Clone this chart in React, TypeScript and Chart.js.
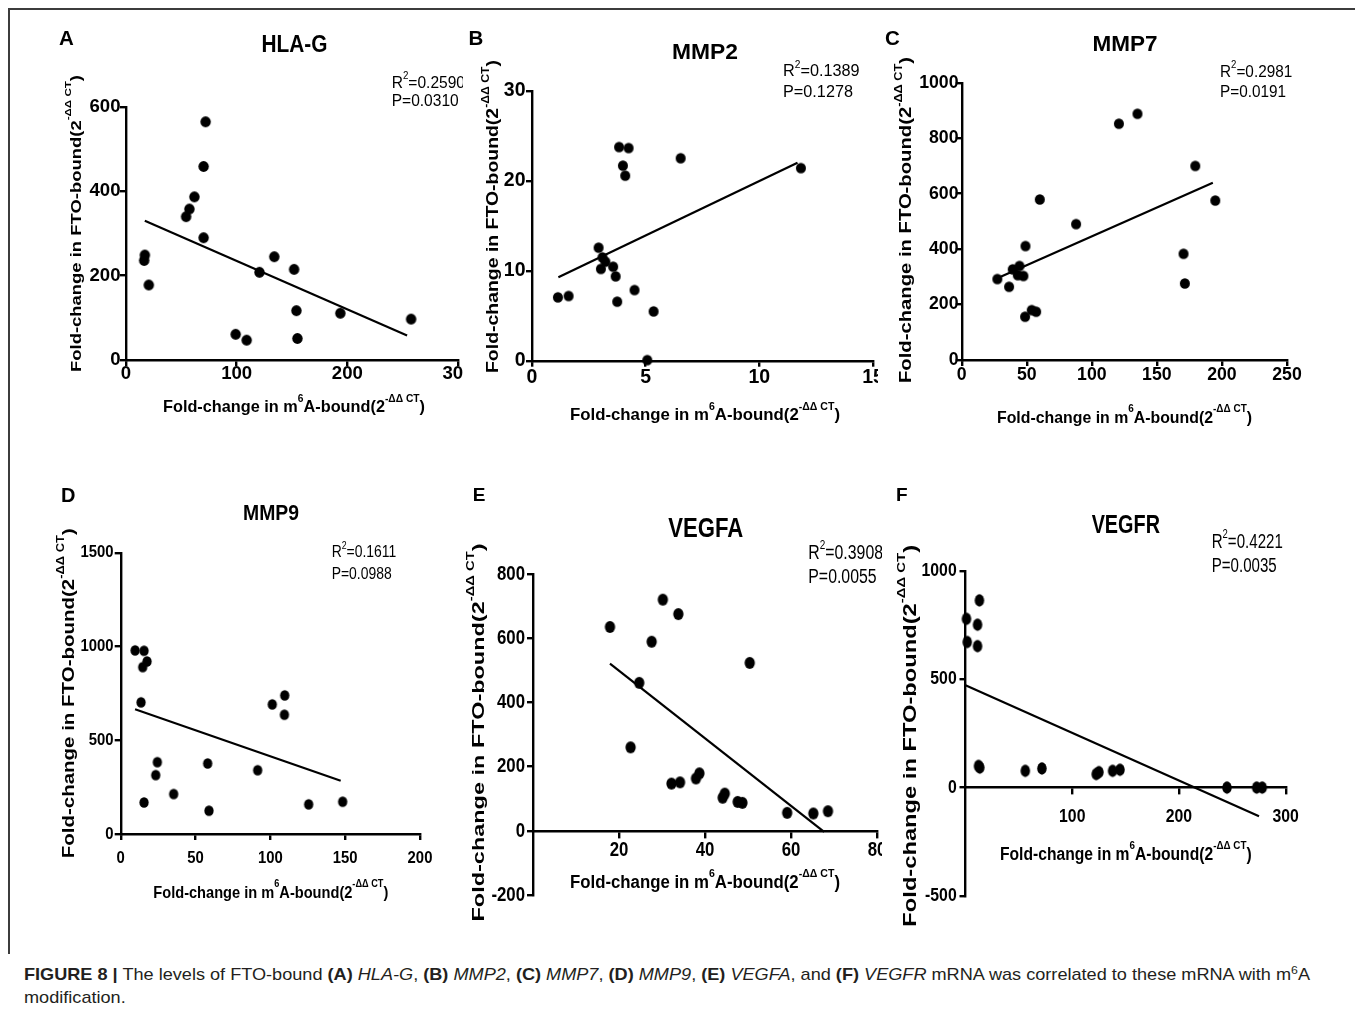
import React, { useEffect, useRef } from 'react';
import { Chart, registerables } from 'chart.js';

Chart.register(...registerables);

// ---------------- data ----------------
const genes = ['HLA-G', 'MMP2', 'MMP7', 'MMP9', 'VEGFA', 'VEGFR'];
const panelLetters = ['A', 'B', 'C', 'D', 'E', 'F'];

const hlagM6A = [17.0, 16.4, 20.6, 54.3, 57.3, 61.8, 70.1, 70.1, 71.9, 99.1, 109, 120.6, 134, 151.9, 154, 154.9, 193.7, 257.6];
const hlagFTO = [249, 236, 178, 340, 358, 387, 290, 459, 565, 61, 47, 208, 245, 215, 117, 51, 111, 97];
const hlagFitX = [17, 254];
const hlagFitY = [330, 58];
const hlagXTicks = [0, 100, 200, 300];
const hlagYTicks = [0, 200, 400, 600];
const hlagXRange = [0, 300];
const hlagYRange = [0, 600];

const mmp2M6A = [1.14, 1.61, 2.93, 3.1, 3.23, 3.03, 3.57, 3.68, 3.75, 3.83, 4.25, 4.0, 4.1, 4.51, 5.35, 5.07, 6.54, 11.83];
const mmp2FTO = [7.04, 7.19, 12.56, 11.48, 11.0, 10.2, 10.44, 9.37, 6.56, 23.74, 23.63, 21.67, 20.56, 7.85, 5.48, 0.07, 22.5, 21.4];
const mmp2FitX = [1.16, 11.68];
const mmp2FitY = [9.26, 22.0];
const mmp2XTicks = [0, 5, 10, 15];
const mmp2YTicks = [0, 10, 20, 30];
const mmp2XRange = [0, 15];
const mmp2YRange = [0, 30];

const mmp7M6A = [27.4, 36.4, 39.2, 44.4, 43.1, 47.4, 49, 48.7, 53.8, 57.2, 60, 87.9, 120.8, 135.1, 179.5, 170.5, 171.5, 194.9];
const mmp7FTO = [292, 264, 327, 339, 306, 303, 411, 156, 180, 174, 579, 490, 852, 888, 700, 383, 276, 575];
const mmp7FitX = [28.2, 193];
const mmp7FitY = [297, 639];
const mmp7XTicks = [0, 50, 100, 150, 200, 250];
const mmp7YTicks = [0, 200, 400, 600, 800, 1000];
const mmp7XRange = [0, 250];
const mmp7YRange = [0, 1000];

const mmp9M6A = [9.6, 15.6, 14.7, 17.6, 13.6, 24.5, 23.4, 15.6, 35.4, 58.1, 59, 91.5, 101.3, 109.6, 109.4, 125.6, 148.3];
const mmp9FTO = [979, 977, 890, 920, 702, 383, 314, 168, 213, 376, 124, 340, 691, 739, 636, 158, 172];
const mmp9FitX = [9.6, 147];
const mmp9FitY = [665, 284];
const mmp9XTicks = [0, 50, 100, 150, 200];
const mmp9YTicks = [0, 500, 1000, 1500];
const mmp9XRange = [0, 200];
const mmp9YRange = [0, 1500];

const vegfaM6A = [17.9, 30.2, 33.8, 27.6, 24.7, 50.4, 22.7, 32.2, 34.2, 37.9, 38.7, 44.1, 44.6, 47.6, 48.7, 59.1, 65.2, 68.6];
const vegfaFTO = [635, 720, 675, 589, 461, 523, 260, 147, 151, 163, 179, 103, 116, 90, 87, 56, 54, 61];
const vegfaFitX = [17.9, 67.7];
const vegfaFitY = [521, -3];
const vegfaXTicks = [20, 40, 60, 80];
const vegfaYTicks = [-200, 0, 200, 400, 600, 800];
const vegfaXRange = [0, 80];
const vegfaYRange = [-200, 800];

const vegfrM6A = [0.9, 1.6, 13, 11.3, 11.3, 12.2, 13.4, 56, 71.6, 122.5, 125, 137.8, 144.7, 245, 272.8, 278];
const vegfrFTO = [778, 671, 863, 751, 652, 100, 92, 77, 88, 62, 71, 77, 82, 0, 0, 0];
const vegfrFitX = [0, 275];
const vegfrFitY = [472, -132];
const vegfrXTicks = [100, 200, 300];
const vegfrYTicks = [-500, 0, 500, 1000];
const vegfrXRange = [0, 300];
const vegfrYRange = [-500, 1000];

const r2Values = ['0.2590', '0.1389', '0.2981', '0.1611', '0.3908', '0.4221'];
const pValues = ['0.0310', '0.1278', '0.0191', '0.0988', '0.0055', '0.0035'];

// ---------------- fonts & layout ----------------
const SANS = '"Liberation Sans", Arial, Helvetica, sans-serif';

type Seg = { t: string; sup?: boolean };

interface Layout {
  box: number[]; // left, top, width, height (page px)
  area: number[]; // chart area left, top, right, bottom (page px)
  xAtZero: boolean;
  tickSize: number;
  tickSqueeze: number;
  xLabelY: number;
  yLabelRight: number;
  dot: number[];
  letter: { x: number; y: number; size: number };
  title: { x: number; y: number; size: number; w: number };
  stats: { x: number; y1: number; y2: number; size: number; w: number };
  yTitle: { x: number; y: number; size: number; w: number };
  xTitle: { x: number; y: number; size: number; w: number };
}

const layouts: Layout[] = [
  {
    box: [10, 10, 453, 425], area: [126, 107, 461.5, 360], xAtZero: false,
    tickSize: 18.6, tickSqueeze: 1, xLabelY: 373.7, yLabelRight: 120.5, dot: [10.4, 10.8],
    letter: { x: 66.5, y: 37.5, size: 20.5 },
    title: { x: 294.5, y: 43.5, size: 23, w: 66 },
    stats: { x: 391.7, y1: 81.7, y2: 100.2, size: 16.5, w: 67 },
    yTitle: { x: 75.3, y: 223.5, size: 15.5, w: 297 },
    xTitle: { x: 294, y: 406.5, size: 16.5, w: 262 },
  },
  {
    box: [463, 10, 415, 425], area: [532, 90.7, 877.7, 360.7], xAtZero: false,
    tickSize: 19.5, tickSqueeze: 1, xLabelY: 377.5, yLabelRight: 525.5, dot: [10, 10.5],
    letter: { x: 476, y: 37.5, size: 20.5 },
    title: { x: 705, y: 51.7, size: 21.5, w: 66 },
    stats: { x: 783, y1: 70, y2: 91.2, size: 17, w: 70 },
    yTitle: { x: 492.7, y: 216.5, size: 16, w: 313 },
    xTitle: { x: 705, y: 414.3, size: 16.5, w: 270 },
  },
  {
    box: [878, 10, 477, 425], area: [961.7, 82.7, 1287, 360], xAtZero: false,
    tickSize: 17.7, tickSqueeze: 1, xLabelY: 375.5, yLabelRight: 958.5, dot: [10, 10.7],
    letter: { x: 892.5, y: 37.5, size: 20.5 },
    title: { x: 1125, y: 42.8, size: 22, w: 65 },
    stats: { x: 1220, y1: 70.8, y2: 91, size: 16.5, w: 66 },
    yTitle: { x: 905.7, y: 220, size: 16, w: 326 },
    xTitle: { x: 1124.5, y: 416.7, size: 16.5, w: 255 },
  },
  {
    box: [10, 440, 445, 500], area: [120.7, 552.7, 420, 834], xAtZero: false,
    tickSize: 16.5, tickSqueeze: 0.9, xLabelY: 858, yLabelRight: 113.5, dot: [9.3, 10.7],
    letter: { x: 68.3, y: 495, size: 20 },
    title: { x: 271, y: 512, size: 21.5, w: 56 },
    stats: { x: 331.7, y1: 551, y2: 573.3, size: 16.5, w: 60 },
    yTitle: { x: 68, y: 693.3, size: 16, w: 330 },
    xTitle: { x: 270.8, y: 891.7, size: 16.5, w: 235 },
  },
  {
    box: [455, 440, 427, 500], area: [533, 574, 877.3, 895], xAtZero: true,
    tickSize: 21, tickSqueeze: 0.8, xLabelY: 850.7, yLabelRight: 525, dot: [10.3, 12],
    letter: { x: 479, y: 494, size: 19 },
    title: { x: 705.8, y: 526.7, size: 28, w: 75 },
    stats: { x: 808.3, y1: 551.7, y2: 576.3, size: 19.5, w: 68.3 },
    yTitle: { x: 478.3, y: 732.5, size: 17, w: 378 },
    xTitle: { x: 705, y: 881.7, size: 18, w: 270 },
  },
  {
    box: [882, 440, 473, 500], area: [965.5, 570.7, 1285.7, 896], xAtZero: true,
    tickSize: 18.6, tickSqueeze: 0.85, xLabelY: 816.7, yLabelRight: 956.7, dot: [9.5, 12.3],
    letter: { x: 901.7, y: 494, size: 19 },
    title: { x: 1125.8, y: 524.2, size: 25.5, w: 68.3 },
    stats: { x: 1211.7, y1: 540.8, y2: 564.5, size: 20, w: 65 },
    yTitle: { x: 909.7, y: 735.8, size: 18, w: 381.7 },
    xTitle: { x: 1125.8, y: 853.3, size: 18, w: 251.7 },
  },
];

interface PanelData {
  xs: number[]; ys: number[]; fitX: number[]; fitY: number[];
  xTicks: number[]; yTicks: number[]; xRange: number[]; yRange: number[];
}

const panelData: PanelData[] = [
  { xs: hlagM6A, ys: hlagFTO, fitX: hlagFitX, fitY: hlagFitY, xTicks: hlagXTicks, yTicks: hlagYTicks, xRange: hlagXRange, yRange: hlagYRange },
  { xs: mmp2M6A, ys: mmp2FTO, fitX: mmp2FitX, fitY: mmp2FitY, xTicks: mmp2XTicks, yTicks: mmp2YTicks, xRange: mmp2XRange, yRange: mmp2YRange },
  { xs: mmp7M6A, ys: mmp7FTO, fitX: mmp7FitX, fitY: mmp7FitY, xTicks: mmp7XTicks, yTicks: mmp7YTicks, xRange: mmp7XRange, yRange: mmp7YRange },
  { xs: mmp9M6A, ys: mmp9FTO, fitX: mmp9FitX, fitY: mmp9FitY, xTicks: mmp9XTicks, yTicks: mmp9YTicks, xRange: mmp9XRange, yRange: mmp9YRange },
  { xs: vegfaM6A, ys: vegfaFTO, fitX: vegfaFitX, fitY: vegfaFitY, xTicks: vegfaXTicks, yTicks: vegfaYTicks, xRange: vegfaXRange, yRange: vegfaYRange },
  { xs: vegfrM6A, ys: vegfrFTO, fitX: vegfrFitX, fitY: vegfrFitY, xTicks: vegfrXTicks, yTicks: vegfrYTicks, xRange: vegfrXRange, yRange: vegfrYRange },
];

const yTitleSegs: Seg[] = [{ t: 'Fold-change in FTO-bound(2' }, { t: '-ΔΔ CT', sup: true }, { t: ')' }];
const xTitleSegs: Seg[] = [{ t: 'Fold-change in m' }, { t: '6', sup: true }, { t: 'A-bound(2' }, { t: '-ΔΔ CT', sup: true }, { t: ')' }];

// ---------------- helpers ----------------
function drawRich(
  ctx: CanvasRenderingContext2D,
  segs: Seg[],
  o: { x: number; y: number; size: number; bold?: boolean; family: string; align?: 'left' | 'center'; width?: number; sx?: number; rotate?: boolean; supRaise?: number; supScale?: number }
): number {
  const supScale = o.supScale ?? 0.63;
  const supRaise = o.supRaise ?? 0.46;
  const font = (sup?: boolean) => `${o.bold ? 'bold ' : ''}${sup ? o.size * supScale : o.size}px ${o.family}`;
  let total = 0;
  const widths = segs.map((s) => {
    ctx.font = font(s.sup);
    const w = ctx.measureText(s.t).width;
    total += w;
    return w;
  });
  const sx = o.width ? o.width / total : o.sx ?? 1;
  ctx.save();
  ctx.translate(o.x, o.y);
  if (o.rotate) ctx.rotate(-Math.PI / 2);
  ctx.scale(sx, 1);
  ctx.fillStyle = '#000';
  ctx.textBaseline = 'alphabetic';
  ctx.textAlign = 'left';
  let cx = o.align === 'center' ? -total / 2 : 0;
  const base = o.size * 0.358;
  segs.forEach((s, i) => {
    ctx.font = font(s.sup);
    ctx.fillText(s.t, cx, s.sup ? base - o.size * supRaise : base);
    cx += widths[i];
  });
  ctx.restore();
  return sx;
}

function makeDot(w: number, h: number): HTMLCanvasElement {
  const c = document.createElement('canvas');
  c.width = Math.ceil(w) + 2;
  c.height = Math.ceil(h) + 2;
  const g = c.getContext('2d')!;
  g.fillStyle = '#000';
  g.beginPath();
  g.ellipse(c.width / 2, c.height / 2, w / 2, h / 2, 0, 0, Math.PI * 2);
  g.fill();
  return c;
}

const TICK_LEN = 6;
const AXIS_W = 2.4;

function Panel({ idx }: { idx: number }) {
  const ref = useRef<HTMLCanvasElement>(null);
  const L = layouts[idx];
  const [bl, bt, bw, bh] = L.box;

  useEffect(() => {
    const d = panelData[idx];
    const [cl, ct, cr, cb] = L.area;
    const zeroY = cb - ((0 - d.yRange[0]) / (d.yRange[1] - d.yRange[0])) * (cb - ct);
    const axisY = L.xAtZero ? zeroY : cb;
    const lh = 1;
    const xPad = L.xLabelY - axisY - TICK_LEN - (L.tickSize * lh) / 2;
    const yPad = cl - TICK_LEN - L.yLabelRight;
    const tickFont = { family: SANS, size: L.tickSize, weight: 'bold' as const, lineHeight: lh };
    const X = (x: number) => x - bl;
    const Y = (y: number) => y - bt;

    const textPlugin = {
      id: 'panelText' + idx,
      beforeDraw(chart: Chart) {
        // condense the tick-label glyphs horizontally (the reference uses a narrow face)
        const ctx: any = chart.ctx;
        if (!ctx.__origFill) ctx.__origFill = ctx.fillText;
        const orig = ctx.__origFill;
        const sq = L.tickSqueeze;
        if (sq !== 1) {
          ctx.fillText = function (t: string, x: number, y: number, mw?: number) {
            this.save();
            this.translate(x, 0);
            this.scale(sq, 1);
            if (mw === undefined) orig.call(this, t, 0, y);
            else orig.call(this, t, 0, y, mw);
            this.restore();
          };
        }
      },
      afterDraw(chart: Chart) {
        const ctx: any = chart.ctx;
        if (ctx.__origFill) ctx.fillText = ctx.__origFill;
        drawRich(ctx, [{ t: panelLetters[idx] }], { x: X(L.letter.x), y: Y(L.letter.y), size: L.letter.size, bold: true, family: SANS, align: 'center' });
        drawRich(ctx, [{ t: genes[idx] }], { x: X(L.title.x), y: Y(L.title.y), size: L.title.size, bold: true, family: SANS, align: 'center', width: L.title.w });
        const sx = drawRich(ctx, [{ t: 'P=' + pValues[idx] }], { x: X(L.stats.x), y: Y(L.stats.y2), size: L.stats.size, family: SANS, width: L.stats.w });
        drawRich(ctx, [{ t: 'R' }, { t: '2', sup: true }, { t: '=' + r2Values[idx] }], { x: X(L.stats.x), y: Y(L.stats.y1), size: L.stats.size, family: SANS, sx, supRaise: 0.5 });
        drawRich(ctx, yTitleSegs, { x: X(L.yTitle.x), y: Y(L.yTitle.y), size: L.yTitle.size, bold: true, family: SANS, align: 'center', width: L.yTitle.w, rotate: true, supRaise: 0.62 });
        drawRich(ctx, xTitleSegs, { x: X(L.xTitle.x), y: Y(L.xTitle.y), size: L.xTitle.size, bold: true, family: SANS, align: 'center', width: L.xTitle.w, supRaise: 0.62 });
      },
    };

    const dot = makeDot(L.dot[0], L.dot[1]);
    const gridOpts = {
      display: true, drawOnChartArea: false, drawTicks: true, tickLength: TICK_LEN,
      tickWidth: AXIS_W, tickColor: '#000', color: '#000', lineWidth: AXIS_W,
    };
    const plain = (v: any) => String(v);

    const chart = new Chart(ref.current!, {
      type: 'scatter',
      data: {
        datasets: [
          {
            data: d.xs.map((x, i) => ({ x, y: d.ys[i] })),
            pointStyle: dot as any,
            pointRadius: 5,
            backgroundColor: '#000',
            borderWidth: 0,
            clip: false as any,
          },
          {
            data: d.fitX.map((x, i) => ({ x, y: d.fitY[i] })),
            showLine: true,
            pointRadius: 0,
            borderColor: '#000',
            borderWidth: 2.2,
            clip: false as any,
          },
        ],
      },
      options: {
        responsive: false,
        animation: false,
        devicePixelRatio: 1,
        events: [],
        layout: {
          padding: {
            left: 0,
            top: ct - bt,
            right: bl + bw - cr,
            bottom: L.xAtZero ? bt + bh - cb : 0,
          },
        },
        plugins: { legend: { display: false }, tooltip: { enabled: false } },
        scales: {
          x: {
            type: 'linear',
            min: d.xRange[0],
            max: d.xRange[1],
            position: (L.xAtZero ? { y: 0 } : 'bottom') as any,
            afterBuildTicks: (s: any) => { s.ticks = d.xTicks.map((v) => ({ value: v })); },
            afterFit: (s: any) => {
              s.height = L.xAtZero ? 0 : bt + bh - cb;
              s.paddingLeft = 0; s.paddingRight = 0; s.paddingTop = 0; s.paddingBottom = 0;
            },
            grid: gridOpts,
            border: { display: true, color: '#000', width: AXIS_W },
            ticks: { font: tickFont, color: '#000', padding: xPad, maxRotation: 0, minRotation: 0, autoSkip: false, callback: plain },
          },
          y: {
            type: 'linear',
            position: 'left',
            min: d.yRange[0],
            max: d.yRange[1],
            afterBuildTicks: (s: any) => { s.ticks = d.yTicks.map((v) => ({ value: v })); },
            afterFit: (s: any) => {
              s.width = cl - bl;
              s.paddingLeft = 0; s.paddingRight = 0; s.paddingTop = 0; s.paddingBottom = 0;
            },
            grid: gridOpts,
            border: { display: true, color: '#000', width: AXIS_W },
            ticks: { font: tickFont, color: '#000', padding: yPad, autoSkip: false, callback: plain },
          },
        },
      },
      plugins: [textPlugin],
    });
    return () => chart.destroy();
  }, []);

  return (
    <canvas
      ref={ref}
      width={bw}
      height={bh}
      style={{ position: 'absolute', left: bl, top: bt, width: bw, height: bh, display: 'block' }}
    />
  );
}

function Caption() {
  const lineRef = useRef<HTMLSpanElement>(null);
  useEffect(() => {
    const el = lineRef.current;
    if (!el) return;
    const w = el.getBoundingClientRect().width;
    const target = 1286;
    const parent = el.parentElement as HTMLElement;
    parent.style.transform = `scaleX(${target / w})`;
  }, []);
  const b = (t: string) => <b>{t}</b>;
  const i = (t: string) => <i>{t}</i>;
  return (
    <div
      style={{
        position: 'absolute', left: 24, top: 963, fontFamily: SANS, fontSize: 17,
        lineHeight: '23px', color: '#231f20', whiteSpace: 'nowrap', transformOrigin: '0 0',
      }}
    >
      <span ref={lineRef}>
        {b('FIGURE 8 |')} The levels of FTO-bound {b('(A)')} {i('HLA-G')}, {b('(B)')} {i('MMP2')}, {b('(C)')} {i('MMP7')},{' '}
        {b('(D)')} {i('MMP9')}, {b('(E)')} {i('VEGFA')}, and {b('(F)')} {i('VEGFR')} mRNA was correlated to these mRNA with m
        <sup style={{ fontSize: '0.68em', lineHeight: 0, verticalAlign: '0.5em' }}>6</sup>A
      </span>
      <br />
      modification.
    </div>
  );
}

export default function App() {
  return (
    <div style={{ position: 'absolute', left: 0, top: 0, width: 1355, height: 1013, background: '#fff', overflow: 'hidden' }}>
      <div
        style={{
          position: 'absolute', left: 8, top: 8, width: 1347, height: 946,
          borderTop: '2px solid #3c3c3c', borderLeft: '2px solid #3c3c3c', boxSizing: 'border-box',
        }}
      />
      {layouts.map((_, k) => (
        <Panel key={k} idx={k} />
      ))}
      <Caption />
    </div>
  );
}
